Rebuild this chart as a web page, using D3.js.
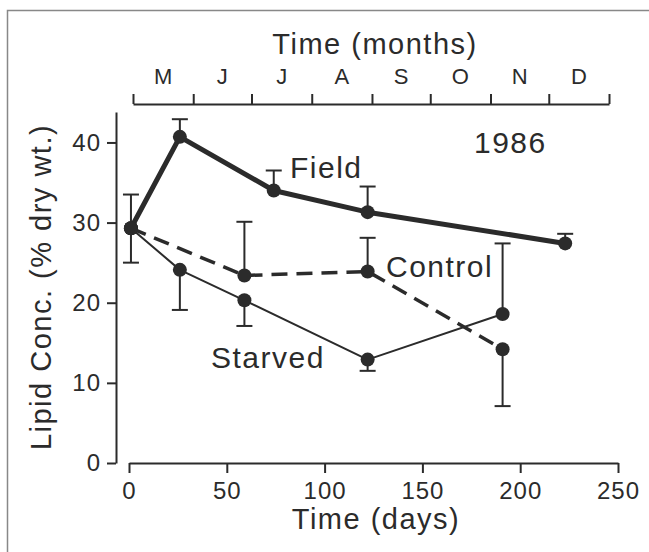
<!DOCTYPE html>
<html>
<head>
<meta charset="utf-8">
<script src="https://cdn.jsdelivr.net/npm/d3@7"></script>
<style>
    body { margin: 0; background: #fff; }
    text { font-family: "Liberation Sans", Arial, Helvetica, sans-serif; fill: #2b2b2b; }
    .axis path, .axis line { stroke: #2b2b2b; stroke-width: 2; }
    .axis text { font-size: 24px; letter-spacing: 1px; }
</style>
</head>
<body>
<svg id="canvas" width="649" height="552"></svg>
<script>
// data (days since start, lipid % dry wt)
const fieldDays = [1, 26, 74, 122, 223];
const fieldLipid = [29.3, 40.7, 34.0, 31.3, 27.4];
const fieldErrTop = [33.5, 42.9, 36.5, 34.5, 28.6];
const fieldErrBottom = [25.0, null, null, null, null];

const controlDays = [1, 59, 122, 191];
const controlLipid = [29.3, 23.4, 23.9, 14.2];
const controlErrTop = [null, 30.1, 28.1, null];
const controlErrBottom = [null, null, null, 7.1];

const starvedDays = [1, 26, 59, 122, 191];
const starvedLipid = [29.3, 24.1, 20.3, 12.9, 18.6];
const starvedErrTop = [null, null, null, null, 27.4];
const starvedErrBottom = [null, 19.1, 17.1, 11.5, null];

const dayTicks = [0, 50, 100, 150, 200, 250];
const lipidTicks = [0, 10, 20, 30, 40];
const months = ['M', 'J', 'J', 'A', 'S', 'O', 'N', 'D'];

const ink = '#2b2b2b';

function toPoints(days, vals, top, bottom) {
    return days.map((d, i) => ({ day: d, val: vals[i], top: top[i], bottom: bottom[i] }));
}

const series = [
    { name: 'Field', pts: toPoints(fieldDays, fieldLipid, fieldErrTop, fieldErrBottom), width: 5, dash: null },
    { name: 'Control', pts: toPoints(controlDays, controlLipid, controlErrTop, controlErrBottom), width: 3.5, dash: '16,9' },
    { name: 'Starved', pts: toPoints(starvedDays, starvedLipid, starvedErrTop, starvedErrBottom), width: 2, dash: null }
];

const svg = d3.select('#canvas');

// frame of the scanned figure
svg.append('path')
    .attr('d', 'M7.5,552V10.5H649')
    .attr('fill', 'none')
    .attr('stroke', '#888')
    .attr('stroke-width', 1.5);

const xScale = d3.scaleLinear().domain([0, 250]).range([129, 618]);
const yScale = d3.scaleLinear().domain([0, 43.8]).range([463, 112]);

// bottom axis
const gx = svg.append('g')
    .attr('class', 'axis')
    .attr('transform', 'translate(0,463)')
    .call(d3.axisBottom(xScale).tickValues(dayTicks).tickSize(10).tickSizeOuter(0).tickPadding(9));
gx.selectAll('text').attr('fill', ink);

// left axis
const gy = svg.append('g')
    .attr('class', 'axis')
    .attr('transform', 'translate(116,0)')
    .call(d3.axisLeft(yScale).tickValues(lipidTicks).tickSize(9).tickSizeOuter(0).tickPadding(6));
gy.selectAll('text').attr('fill', ink);

// top axis: months of 1986
const monthScale = d3.scaleTime()
    .domain([new Date(1986, 4, 1), new Date(1987, 0, 1)])
    .range([133, 609]);
const monthEdges = d3.timeMonth.range(new Date(1986, 4, 1), new Date(1987, 0, 2));
svg.append('g')
    .attr('class', 'axis')
    .attr('transform', 'translate(0,104)')
    .call(d3.axisTop(monthScale).tickValues(monthEdges).tickSize(10).tickSizeOuter(0).tickFormat(''));

svg.append('g')
    .selectAll('text')
    .data(months)
    .enter().append('text')
    .attr('x', (d, i) => (monthScale(monthEdges[i]) + monthScale(monthEdges[i + 1])) / 2)
    .attr('y', 84)
    .attr('text-anchor', 'middle')
    .attr('font-size', 22)
    .text(d => d);

// titles
svg.append('text')
    .attr('x', 375).attr('y', 54)
    .attr('text-anchor', 'middle')
    .attr('font-size', 29)
    .attr('letter-spacing', 1.5)
    .text('Time (months)');

svg.append('text')
    .attr('x', 376).attr('y', 529)
    .attr('text-anchor', 'middle')
    .attr('font-size', 29)
    .attr('letter-spacing', 1.5)
    .text('Time (days)');

svg.append('text')
    .attr('transform', 'translate(51,287) rotate(-90)')
    .attr('text-anchor', 'middle')
    .attr('font-size', 29)
    .attr('letter-spacing', 1.5)
    .text('Lipid Conc. (% dry wt.)');

// error bars
const ebars = [];
for (let s of series) {
    for (let p of s.pts) {
        if (p.top != null) ebars.push({ day: p.day, from: p.val, to: p.top });
        if (p.bottom != null) ebars.push({ day: p.day, from: p.val, to: p.bottom });
    }
}
const eg = svg.append('g').attr('stroke', ink).attr('stroke-width', 2);
eg.selectAll('line.stem')
    .data(ebars)
    .enter().append('line')
    .attr('class', 'stem')
    .attr('x1', d => xScale(d.day)).attr('x2', d => xScale(d.day))
    .attr('y1', d => yScale(d.from)).attr('y2', d => yScale(d.to));
eg.selectAll('line.cap')
    .data(ebars)
    .enter().append('line')
    .attr('class', 'cap')
    .attr('x1', d => xScale(d.day) - 8).attr('x2', d => xScale(d.day) + 8)
    .attr('y1', d => yScale(d.to)).attr('y2', d => yScale(d.to));

// lines
const line = d3.line()
    .x(d => xScale(d.day))
    .y(d => yScale(d.val));

svg.append('g')
    .selectAll('path')
    .data(series)
    .enter().append('path')
    .attr('d', d => line(d.pts))
    .attr('fill', 'none')
    .attr('stroke', ink)
    .attr('stroke-width', d => d.width)
    .attr('stroke-linejoin', 'round')
    .attr('stroke-dasharray', d => d.dash);

// markers
svg.append('g')
    .selectAll('circle')
    .data(series.flatMap(s => s.pts))
    .enter().append('circle')
    .attr('cx', d => xScale(d.day))
    .attr('cy', d => yScale(d.val))
    .attr('r', 7)
    .attr('fill', ink);

// series labels
const labels = [
    { text: 'Field', x: 290, y: 178 },
    { text: 'Control', x: 386, y: 277 },
    { text: 'Starved', x: 211, y: 368 },
    { text: '1986', x: 474, y: 153 }
];
svg.append('g')
    .selectAll('text')
    .data(labels)
    .enter().append('text')
    .attr('x', d => d.x)
    .attr('y', d => d.y)
    .attr('font-size', 30)
    .attr('letter-spacing', 1.5)
    .text(d => d.text);
</script>
</body>
</html>
